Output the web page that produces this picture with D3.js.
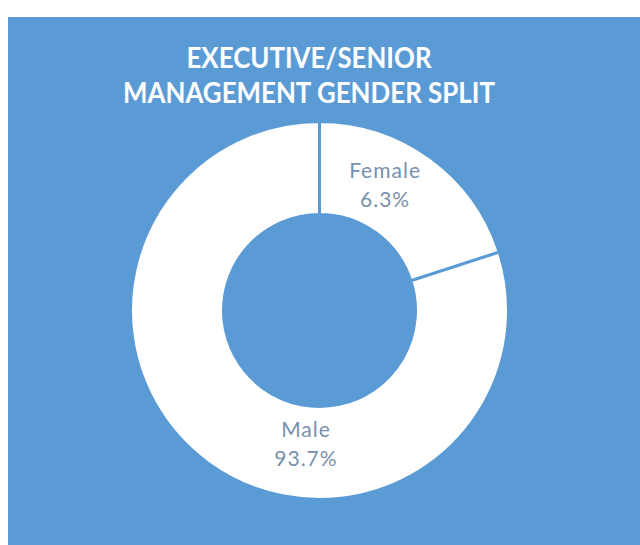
<!DOCTYPE html>
<html>
<head>
<meta charset="utf-8">
<script src="https://cdn.jsdelivr.net/npm/d3@7"></script>
<style>
  html, body { margin: 0; padding: 0; background: #fff; }
  svg { display: block; }
</style>
</head>
<body>
<script>
// chart data
const titleLines = ['EXECUTIVE/SENIOR', 'MANAGEMENT GENDER SPLIT']
const categories = ['Female', 'Male']
const shares = [20, 80]            // slice sizes as drawn in the picture
const pctLabels = ['6.3%', '93.7%'] // printed data labels

const width = 640, height = 545
const blue = '#5b9bd5'
const labelColor = '#7891ad'

// where each label block sits (angle in degrees from 12 o'clock, radius in px)
const labelPlace = [{ a: 27.5, r: 142 }, { a: 185.8, r: 134 }]

const svg = d3.select('body')
              .append('svg')
              .attr('width', width)
              .attr('height', height)

// panel
svg.append('rect')
   .attr('x', 8).attr('y', 17)
   .attr('width', width - 8).attr('height', height - 17)
   .attr('fill', blue)

// title
const titleWidths = [245, 372]
svg.append('g')
   .selectAll('text')
   .data(titleLines)
   .join('text')
   .attr('x', 309)
   .attr('y', (d, i) => 68 + i * 35)
   .attr('text-anchor', 'middle')
   .attr('font-family', 'Lato, sans-serif')
   .attr('font-weight', 'bold')
   .attr('font-size', 28)
   .attr('textLength', (d, i) => titleWidths[i])
   .attr('lengthAdjust', 'spacingAndGlyphs')
   .attr('fill', '#fff')
   .text(d => d)

// donut
const cx = 319.5, cy = 310.5
const pie = d3.pie().sort(null).value(d => d)
const arc = d3.arc().innerRadius(96).outerRadius(189)

const g = svg.append('g').attr('transform', `translate(${cx},${cy})`)

g.selectAll('path')
 .data(pie(shares))
 .join('path')
 .attr('d', arc)
 .attr('fill', '#fff')
 .attr('stroke', blue)
 .attr('stroke-width', 3)

// labels
const labels = g.selectAll('g.lbl')
  .data(categories)
  .join('g')
  .attr('class', 'lbl')
  .attr('transform', (d, i) => {
      const p = d3.pointRadial(labelPlace[i].a * Math.PI / 180, labelPlace[i].r)
      return `translate(${p[0]},${p[1]})`
  })

labels.append('text')
      .attr('y', -7)
      .attr('text-anchor', 'middle')
      .attr('font-family', 'Lato, sans-serif')
      .attr('font-size', 21)
      .attr('letter-spacing', 1)
      .attr('fill', labelColor)
      .text(d => d)

labels.append('text')
      .attr('y', 22)
      .attr('text-anchor', 'middle')
      .attr('font-family', 'Lato, sans-serif')
      .attr('font-size', 21)
      .attr('letter-spacing', 1)
      .attr('fill', labelColor)
      .text((d, i) => pctLabels[i])
</script>
</body>
</html>
